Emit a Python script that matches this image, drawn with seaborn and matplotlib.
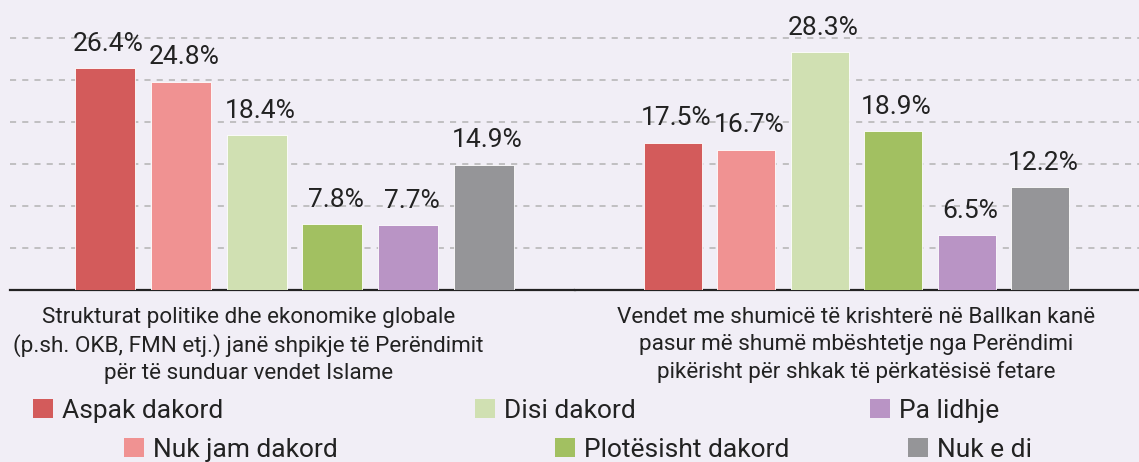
import matplotlib
matplotlib.use("Agg")
import matplotlib.pyplot as plt
from matplotlib.transforms import ScaledTranslation
from matplotlib.patches import Patch
import seaborn as sns
import pandas as pd

# --- data -------------------------------------------------------------
statements = [
    "Strukturat politike dhe ekonomike globale\n(p.sh. OKB, FMN etj.) janë shpikje të Perëndimit\npër të sunduar vendet Islame",
    "Vendet me shumicë të krishterë në Ballkan kanë\npasur më shumë mbështetje nga Perëndimi\npikërisht për shkak të përkatësisë fetare",
]
responses = ["Aspak dakord", "Nuk jam dakord", "Disi dakord",
             "Plotësisht dakord", "Pa lidhje", "Nuk e di"]
aspak_dakord = [26.4, 17.5]
nuk_jam_dakord = [24.8, 16.7]
disi_dakord = [18.4, 28.3]
plotesisht_dakord = [7.8, 18.9]
pa_lidhje = [7.7, 6.5]
nuk_e_di = [14.9, 12.2]
colors = ["#d35b5b", "#f09292", "#d0e0b2", "#a2c061", "#b994c5", "#959598"]

series = [aspak_dakord, nuk_jam_dakord, disi_dakord,
          plotesisht_dakord, pa_lidhje, nuk_e_di]
rows = []
for resp, vals in zip(responses, series):
    for st, v in zip(statements, vals):
        rows.append({"statement": st, "response": resp, "value": v})
df = pd.DataFrame(rows)

# --- style ------------------------------------------------------------
BG = "#f1eef6"
sns.set_theme(style="white")
plt.rcParams["font.family"] = ["Roboto", "DejaVu Sans"]
plt.rcParams["text.color"] = "#222222"

W, H = 1139, 462
fig = plt.figure(figsize=(W / 100, H / 100), dpi=100, facecolor=BG)

# one panel per statement, sharing the same value scale
SPLIT = 575
panels = [
    (10, SPLIT, (-0.5004, 0.4934), -46),
    (SPLIT, W, (-0.5107, 0.5129), 0),
]
bottom_px = 290
for i, (x0, x1, xlim, label_shift) in enumerate(panels):
    ax = fig.add_axes([x0 / W, (H - bottom_px) / H, (x1 - x0) / W, bottom_px / H])
    ax.set_facecolor(BG)
    sub = df[df["statement"] == statements[i]]
    sns.barplot(data=sub, x="statement", y="value", hue="response",
                hue_order=responses, palette=colors, width=0.8, gap=0.21,
                edgecolor="white", linewidth=0.6, saturation=1,
                legend=False, ax=ax, zorder=3)

    ax.set_ylim(0, 34.5)
    ax.set_xlim(*xlim)
    ax.set_yticks([5, 10, 15, 20, 25, 30])
    ax.set_yticklabels([])
    ax.tick_params(axis="y", length=0)
    ax.yaxis.grid(True, color="#b3b3b3", linestyle=(0, (4, 4)),
                  linewidth=1.1, zorder=0)
    ax.xaxis.grid(False)
    ax.set_axisbelow(True)
    for s in ["left", "right", "top"]:
        ax.spines[s].set_visible(False)
    ax.spines["bottom"].set_color("#222222")
    ax.spines["bottom"].set_linewidth(1.6)
    ax.set_xlabel("")
    ax.set_ylabel("")

    ax.tick_params(axis="x", length=0, pad=12, labelsize=16.2, labelcolor="#222222")
    for lbl in ax.get_xticklabels():
        lbl.set_linespacing(1.37)
        if label_shift:
            lbl.set_transform(lbl.get_transform() +
                              ScaledTranslation(label_shift / 100, 0,
                                                fig.dpi_scale_trans))

    # value labels above each bar, nudged slightly right
    for cont in ax.containers:
        anns = ax.bar_label(cont, fmt="%.1f%%", padding=9, fontsize=19,
                            color="#222222")
        for a in anns:
            a.xyann = (2.5, a.xyann[1])

# legend entries laid out in two staggered rows
legend_pos = [(33, 399), (124, 438), (475, 399), (555, 438), (870, 399), (908, 438)]
for resp, col, (lx, ly) in zip(responses, colors, legend_pos):
    fig.legend(handles=[Patch(facecolor=col, edgecolor="none")], labels=[resp],
               loc="upper left", bbox_to_anchor=(lx / W, 1 - ly / H),
               frameon=False, fontsize=19, handlelength=0.75, handleheight=0.75,
               handletextpad=0.35, borderpad=0, borderaxespad=0)

fig.savefig("out.png", dpi=100, facecolor=BG)
